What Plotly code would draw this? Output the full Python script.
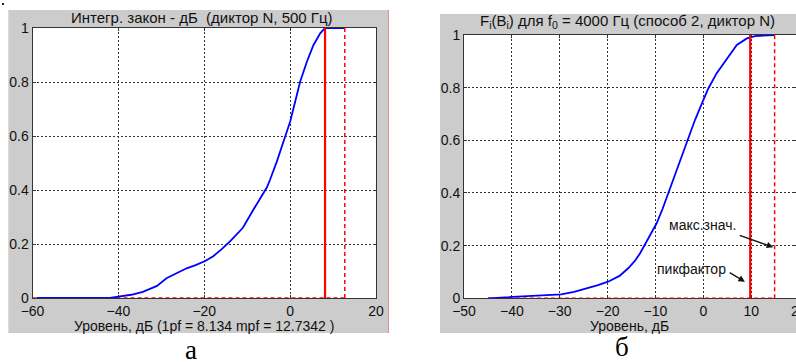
import plotly.graph_objects as go

W, H = 796, 362

# ---------------- data ----------------
# panel а
xa_curve = [-59, -50, -42, -40, -37, -34.3, -31, -28.8, -26, -24.1, -22, -19.8, -17.9, -16, -14,
            -11, -8.6, -6.5, -5.4, -4.7, -3.1, -1.56, 0, 1.17, 2.33, 3.9, 5.44, 7.0, 8.13, 12.73]
ya_curve = [0, 0, 0.0, 0.005, 0.012, 0.023, 0.045, 0.073, 0.095, 0.11, 0.122, 0.137, 0.155, 0.18, 0.21,
            0.26, 0.326, 0.38, 0.41, 0.437, 0.505, 0.579, 0.653, 0.727, 0.801, 0.875, 0.937, 0.98, 1.0, 1.0]
pf_a = 8.134
mpf_a = 12.7342
xa_ticks = [-60, -40, -20, 0, 20]

# panel б
xb_curve = [-45, -42, -39.6, -35, -29.7, -27, -24.1, -22, -19.9, -17.5, -15.7, -14.3, -13.2, -11.8,
            -9.75, -8.5, -7.3, -5.56, -3.47, -1.74, 0, 1.05, 2.8, 4.9, 7.0, 9.1, 10.8, 14.9]
yb_curve = [0, 0.003, 0.006, 0.01, 0.015, 0.024, 0.038, 0.05, 0.063, 0.085, 0.114, 0.142, 0.171, 0.215,
            0.285, 0.34, 0.399, 0.487, 0.589, 0.677, 0.753, 0.797, 0.855, 0.911, 0.962, 0.987, 0.996, 1.0]
pf_b = 9.8
mpf_b = 14.9
xb_ticks = [-50, -40, -30, -20, -10, 0, 10]

y_ticks = [0, 0.2, 0.4, 0.6, 0.8, 1]
y_ticklabels = ["0", "0.2", "0.4", "0.6", "0.8", "1"]

title_a = "Интегр. закон - дБ  (диктор N, 500 Гц)"
title_b = "F<sub>i</sub>(B<sub>i</sub>) для f<sub>0</sub> = 4000 Гц (способ 2, диктор N)"
xlabel_a = "Уровень, дБ (1pf = 8.134 mpf = 12.7342 )"
xlabel_b = "Уровень, дБ"
label_max = "макс.знач."
label_pf = "пикфактор"

# ---------------- helpers ----------------
def px(x):
    return x / W

def py(y):
    return (H - y) / H

FONT = "Liberation Sans, Arial, sans-serif"
BLUE = "#0000ff"
RED = "#ff0000"
GRID = "#333333"

fig = go.Figure()

# curves
fig.add_trace(go.Scatter(x=[-60, mpf_a], y=[0, 0], mode="lines",
                         line=dict(color=RED, width=1.5, dash="4px,3px"), xaxis="x", yaxis="y"))
fig.add_trace(go.Scatter(x=xa_curve, y=ya_curve, mode="lines",
                         line=dict(color=BLUE, width=1.8), xaxis="x", yaxis="y"))
fig.add_trace(go.Scatter(x=[pf_a, pf_a], y=[0, 1], mode="lines",
                         line=dict(color=RED, width=2.2), xaxis="x", yaxis="y"))
fig.add_trace(go.Scatter(x=[mpf_a, mpf_a], y=[0, 1], mode="lines",
                         line=dict(color=RED, width=1.5, dash="4px,3px"), xaxis="x", yaxis="y"))

fig.add_trace(go.Scatter(x=[-45, mpf_b], y=[0, 0], mode="lines",
                         line=dict(color=RED, width=1.5, dash="4px,3px"), xaxis="x2", yaxis="y2"))
fig.add_trace(go.Scatter(x=xb_curve, y=yb_curve, mode="lines",
                         line=dict(color=BLUE, width=1.8), xaxis="x2", yaxis="y2"))
fig.add_trace(go.Scatter(x=[pf_b, pf_b], y=[0, 1], mode="lines",
                         line=dict(color=RED, width=2.2), xaxis="x2", yaxis="y2"))
fig.add_trace(go.Scatter(x=[mpf_b, mpf_b], y=[0, 1], mode="lines",
                         line=dict(color=RED, width=1.5, dash="4px,3px"), xaxis="x2", yaxis="y2"))

axis_common = dict(
    showline=True, linecolor="#333333", linewidth=1, mirror="ticks",
    ticks="inside", ticklen=3, tickcolor="#333333",
    showgrid=True, gridcolor=GRID, gridwidth=1, griddash="2px,2px",
    zeroline=False, fixedrange=True, automargin=False, layer="below traces",
    tickfont=dict(family=FONT, size=14, color="#111111"),
)

# panel а axes
xa_l, xa_r, ya_b, ya_t = 32.5, 376.0, 298.0, 28.0
# panel б axes (right edge lies just outside the image)
xb_l, yb_b, yb_t = 464.0, 298.3, 35.0
xb_per_unit = (703.3 - xb_l) / 50.0
xb_right_val = -50 + (W - xb_l) / xb_per_unit

fig.update_layout(
    width=W, height=H,
    margin=dict(l=0, r=0, t=0, b=0, autoexpand=False),
    paper_bgcolor="white", plot_bgcolor="white",
    showlegend=False,
    xaxis=dict(axis_common, domain=[px(xa_l), px(xa_r)], range=[-60, 20], tickvals=xa_ticks,
               anchor="y"),
    yaxis=dict(axis_common, domain=[py(ya_b), py(ya_t)], range=[0, 1], tickvals=y_ticks,
               ticktext=y_ticklabels, anchor="x"),
    xaxis2=dict(axis_common, domain=[px(xb_l), 1.0], range=[-50, xb_right_val], tickvals=xb_ticks,
                anchor="y2"),
    yaxis2=dict(axis_common, domain=[py(yb_b), py(yb_t)], range=[0, 1], tickvals=y_ticks,
                ticktext=y_ticklabels, anchor="x2"),
)

# gray figure backgrounds (MATLAB style) with white axes areas
shapes = [
    dict(type="rect", xref="paper", yref="paper", x0=px(8.3), x1=px(388), y0=py(333), y1=py(10),
         fillcolor="#cccccc", line=dict(width=0), layer="below"),
    dict(type="rect", xref="paper", yref="paper", x0=px(440), x1=1.0, y0=py(333), y1=py(14),
         fillcolor="#cccccc", line=dict(width=0), layer="below"),
    dict(type="rect", xref="paper", yref="paper", x0=px(xa_l), x1=px(xa_r), y0=py(ya_b), y1=py(ya_t),
         fillcolor="white", line=dict(width=0), layer="below"),
    dict(type="rect", xref="paper", yref="paper", x0=px(xb_l), x1=1.0, y0=py(yb_b), y1=py(yb_t),
         fillcolor="white", line=dict(width=0), layer="below"),
    dict(type="line", xref="paper", yref="paper", x0=px(388.5), x1=px(388.5), y0=py(333), y1=py(10),
         line=dict(color="#e09090", width=1), layer="below"),
    dict(type="rect", xref="paper", yref="paper", x0=px(2), x1=px(4), y0=py(5), y1=py(3),
         fillcolor="#222222", line=dict(width=0)),
]
fig.update_layout(shapes=shapes)

ann = []
def text(x, y, s, size=14, family=FONT, color="#111111"):
    ann.append(dict(xref="paper", yref="paper", x=px(x), y=py(y), text=s, showarrow=False,
                    xanchor="center", yanchor="middle",
                    font=dict(family=family, size=size, color=color)))

text(202, 18, title_a, size=15)
text(627.5, 22, title_b, size=15)
text(203.5, 325.5, xlabel_a)
text(629, 325.5, xlabel_b)
text(798.6, 310.5, "20")
text(191, 350, "а", size=27, family="Liberation Serif, Times New Roman, serif", color="#000000")
text(622, 347, "б", size=27, family="Liberation Serif, Times New Roman, serif", color="#000000")
text(702.5, 225, label_max)
text(691.7, 268.5, label_pf)

# arrows (data coordinates of the right panel)
ann.append(dict(xref="x2", yref="y2", x=14.6, y=0.194, axref="x2", ayref="y2",
                ax=7.3, ay=0.241, text="", showarrow=True, arrowhead=2, arrowsize=1,
                arrowwidth=1.3, arrowcolor="#111111"))
ann.append(dict(xref="x2", yref="y2", x=8.7, y=0.063, axref="x2", ayref="y2",
                ax=5.2, ay=0.101, text="", showarrow=True, arrowhead=2, arrowsize=1,
                arrowwidth=1.3, arrowcolor="#111111"))
fig.update_layout(annotations=ann)

fig.write_html(
    "out.html",
    config={"displayModeBar": False},
    post_script="document.body.style.margin='0';document.body.style.padding='0';"
                "document.body.style.overflow='hidden';",
)
